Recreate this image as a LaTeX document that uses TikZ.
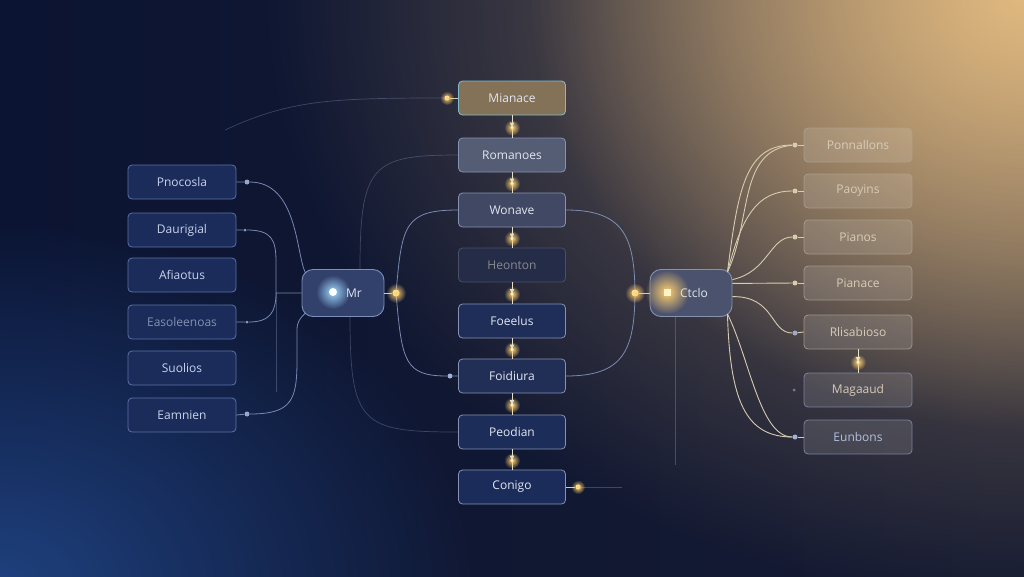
\documentclass[tikz,border=0pt]{standalone}
\usepackage{fontspec}
\setmainfont{Open Sans}
\usetikzlibrary{fadings,arrows.meta}

\tikzfading[name=glowfade, inner color=transparent!0, outer color=transparent!100]

\definecolor{bgleft}{HTML}{0B1432}
\definecolor{bgright}{HTML}{161B32}
\definecolor{bgblue}{HTML}{1F417F}
\definecolor{bggold}{HTML}{E2BA80}
\definecolor{leftfill}{HTML}{1B2C5A}
\definecolor{leftline}{HTML}{5B72A8}
\definecolor{lefttext}{HTML}{C9D3EC}
\definecolor{midfill}{HTML}{2B3453}
\definecolor{midline}{HTML}{8592B2}
\definecolor{midtext}{HTML}{E2E6F0}
\definecolor{goldfill}{HTML}{847258}
\definecolor{goldline}{HTML}{7FBCCB}
\definecolor{rightline}{HTML}{B0A38E}
\definecolor{righttext}{HTML}{D8CCB8}
\definecolor{wire}{HTML}{8A9CC8}
\definecolor{wirewarm}{HTML}{D8CCB0}
\definecolor{sparkcol}{HTML}{FFF4C8}
\definecolor{sparkglow}{HTML}{FFD070}
\definecolor{blueglow}{HTML}{9FD8FF}

\newcommand{\glow}[3]{\fill[#2, path fading=glowfade] (#1) circle (#3);}

\begin{document}
\begin{tikzpicture}[x=1pt,y=-1pt]
		\tikzstyle{box}   = [rectangle,rounded corners=4pt,draw,line width=0.8pt,minimum width=108pt,minimum height=34pt,font=\fontsize{12}{14}\selectfont]
		\tikzstyle{lbox}  = [box,fill=leftfill,draw=leftline,text=lefttext]
		\tikzstyle{mbox}  = [box,minimum width=107pt,fill=midfill,draw=midline,text=midtext]
		\tikzstyle{rbox}  = [box,fill=white,fill opacity=0.12,text opacity=1,draw=rightline,draw opacity=0.8,text=righttext]
		\tikzstyle{hub}   = [rectangle,rounded corners=11pt,draw,line width=0.9pt,minimum width=82pt,minimum height=47pt,text=midtext,font=\fontsize{12}{14}\selectfont]
		\tikzstyle{pin}   = [circle,inner sep=0pt,minimum size=5pt]
		\tikzstyle{link}  = [draw=wire,line width=0.8pt,draw opacity=0.85]
		\tikzstyle{faint} = [draw=wire,line width=0.7pt,draw opacity=0.35]
		\tikzstyle{warm}  = [draw=wirewarm,line width=0.9pt]
		\tikzstyle{flow}  = [draw=sparkcol!80!midline,line width=0.9pt]
		
		\useasboundingbox (0,0) rectangle (1024,576);
		\begin{scope}
			\clip (0,0) rectangle (1024,576);
			\shade[left color=bgleft,right color=bgright] (0,0) rectangle (1024,576);
			\fill[bgblue, path fading=glowfade] (0,590) ellipse (480 and 370);
			\fill[bggold!55!bgright, path fading=glowfade] (1024,0) ellipse (760 and 600);
			\fill[bggold, path fading=glowfade] (1030,-10) ellipse (500 and 440);
		\end{scope}
		
		\node[lbox] (pnocosla)    at (182,182) {Pnocosla};
		\node[lbox] (daurigial)   at (182,230) {Daurigial};
		\node[lbox] (afiaotus)    at (182,275) {Afiaotus};
		\node[lbox,text=lefttext!60!leftfill] (easoleenoas) at (182,322) {Easoleenoas};
		\node[lbox] (suolios)     at (182,368) {Suolios};
		\node[lbox] (eamnien)     at (182,415) {Eamnien};
		
		\node[hub,fill=leftfill!90!white,draw=leftline!80!white] (mr) at (343,293) {\hspace*{22pt}Mr};
		\node[hub,fill=midfill!85!white,draw=midline] (ctclo) at (691,293) {\hspace*{6pt}Ctclo};
		
		\node[mbox,fill=goldfill,draw=goldline] (mianace) at (512,98) {Mianace};
		\node[mbox,fill=midfill!80!white]       (romanoes) at (512,155) {Romanoes};
		\node[mbox,fill=midfill!90!white]       (wonave)   at (512,210) {Wonave};
		\node[mbox,fill=midfill!85!black,draw=midline!55!black,text=midtext!60!black] (heonton) at (512,265) {Heonton};
		\node[mbox,fill=leftfill!80!midfill]    (foeelus)  at (512,321) {Foeelus};
		\node[mbox,fill=leftfill!60!midfill]    (foidiura) at (512,376) {Foidiura};
		\node[mbox,fill=leftfill!85!midfill]    (peodian)  at (512,432) {Peodian};
		\node[mbox,fill=leftfill]               (conigo)   at (512,487) {Conigo};
		
		\node[rbox] (ponnallons) at (858,145) {Ponnallons};
		\node[rbox] (paoyins)    at (858,191) {Paoyins};
		\node[rbox] (pianos)     at (858,237) {Pianos};
		\node[rbox] (pianace)    at (858,283) {Pianace};
		\node[rbox] (rlisabioso) at (858,332) {Rlisabioso};
		\node[rbox,draw=midline] (magaaud) at (858,390) {Magaaud};
		\node[rbox,draw=midline,text=lefttext!80!leftline] (eunbons) at (858,437) {Eunbons};
		
		\node[pin,fill=wire!90!white]   (l1) at (247,182) {};
		\node[pin,fill=wire,minimum size=3pt] (l2) at (245,230) {};
		\node[pin,fill=wire,minimum size=3pt] (l4) at (247,322) {};
		\node[pin,fill=wire!90!white]   (l6) at (247,414) {};
		\node[pin,fill=sparkcol,minimum size=7pt] (mrpin) at (396,293) {};
		\node[pin,fill=sparkcol,minimum size=5pt] (toppin) at (447,98) {};
		\node[pin,fill=wire!80!white]   (fpin) at (450,376) {};
		\node[pin,fill=sparkcol,minimum size=5pt] (conpin) at (578,487) {};
		\node[pin,fill=sparkcol,minimum size=7pt] (ctclopin) at (635,293) {};
		\node[pin,fill=wirewarm] (rp1) at (795,145) {};
		\node[pin,fill=wirewarm] (rp2) at (795,191) {};
		\node[pin,fill=wirewarm] (rp3) at (795,237) {};
		\node[pin,fill=wirewarm] (rp4) at (795,283) {};
		\node[pin,fill=wire!70!wirewarm] (rp5) at (795,333) {};
		\node[pin,fill=wirewarm,minimum size=3pt,opacity=0.5] (rp6) at (794,390) {};
		\node[pin,fill=wire!80!white] (rp7) at (795,437) {};
		
		\coordinate (topfree) at (225,130);
		\coordinate (ljoin)   at (276,293);
		\coordinate (lfoot)   at (276,392);
		\coordinate (confree) at (622,487);
		\coordinate (ctfoot)  at (675,465);
		\coordinate (ctne)    at ([xshift=-5pt,yshift=-3pt]ctclo.north east);
		\coordinate (ctse)    at ([xshift=-5pt,yshift=3pt]ctclo.south east);
		
		\draw[link] (pnocosla.east) -- (l1) .. controls (298,182) and (296,255) .. ([xshift=4pt,yshift=-4pt]mr.north west);
		\draw[link] (daurigial.east) -- (l2) .. controls (272,230) and (276,240) .. (276,262) |- (mr.west);
		\draw[link] (easoleenoas.east) -- (l4) .. controls (270,322) and (276,312) .. (ljoin);
		\draw[faint] (ljoin) -- (lfoot);
		\draw[link] (eamnien.east) -- (l6) .. controls (292,414) and (297,400) .. (297,360) -- (297,330) .. controls (297,322) and (300,318) .. ([xshift=4pt,yshift=4pt]mr.south west);
		
		\draw[warm] (mr.east) -- (mrpin);
		\draw[link] (mrpin) .. controls (402,225) and (405,210) .. (wonave.west);
		\draw[link] (mrpin) .. controls (402,362) and (405,376) .. (fpin) -- (foidiura.west);
		\draw[faint] ([xshift=17pt]mr.north) .. controls (360,165) and (372,155) .. (romanoes.west);
		\draw[faint] ([xshift=7pt]mr.south) .. controls (350,425) and (362,432) .. (peodian.west);
		\draw[faint] (topfree) .. controls (290,100) and (330,98) .. (toppin);
		\draw[warm] (toppin) -- (mianace.west);
		
		\foreach \a/\b in {mianace/romanoes,romanoes/wonave,wonave/heonton,heonton/foeelus,foeelus/foidiura,foidiura/peodian,peodian/conigo,rlisabioso/magaaud}{
			\draw[flow] (\a.south) -- (\b.north) coordinate[pos=0.55] (\a-s);
			\glow{\a-s}{sparkglow}{8}
			\draw[flow,-{Latex[length=5pt,width=5pt]}] (\a.south) -- (\a-s);
			\fill[sparkcol] (\a-s) circle (1.6);
		}
		
		\draw[warm] (ctclopin) -- (ctclo.west);
		\draw[link] (ctclopin) .. controls (634,235) and (622,210) .. (wonave.east);
		\draw[link] (ctclopin) .. controls (634,352) and (622,376) .. (foidiura.east);
		\draw[warm] (conigo.east) -- (conpin);
		\draw[faint] (conpin) -- (confree);
		\draw[faint] ([xshift=-16pt]ctclo.south) -- (ctfoot);
		
		\draw[warm] (ctne) .. controls (738,190) and (745,145) .. (rp1);
		\draw[warm] (ctne) .. controls (752,220) and (738,150) .. (rp1);
		\draw[warm] (ctne) .. controls (742,215) and (758,191) .. (rp2);
		\draw[warm] (ctclo.18) .. controls (768,272) and (770,237) .. (rp3);
		\draw[warm] (ctclo.13) -- (rp4);
		\draw[warm] (ctclo.-5) .. controls (775,296) and (770,333) .. (rp5);
		\draw[warm] (ctse) .. controls (750,360) and (760,437) .. (rp7);
		\draw[warm] (ctse) .. controls (730,400) and (745,437) .. (rp7);
		\foreach \p/\n in {rp1/ponnallons,rp2/paoyins,rp3/pianos,rp4/pianace,rp5/rlisabioso,rp7/eunbons}{
			\draw[warm] (\p) -- (\n.west);
		}
		
		\glow{396,293}{sparkglow}{10}
		\glow{635,293}{sparkglow}{10}
		\glow{578,487}{sparkglow}{7}
		\glow{447,98}{sparkglow}{7}
		\glow{333,292}{blueglow}{17}
		\fill[white] (333,292) circle (4);
		\glow{667,292}{sparkglow}{22}
		\fill[sparkcol] (663.5,288.5) rectangle (670.5,295.5);
	\end{tikzpicture}
\end{document}
